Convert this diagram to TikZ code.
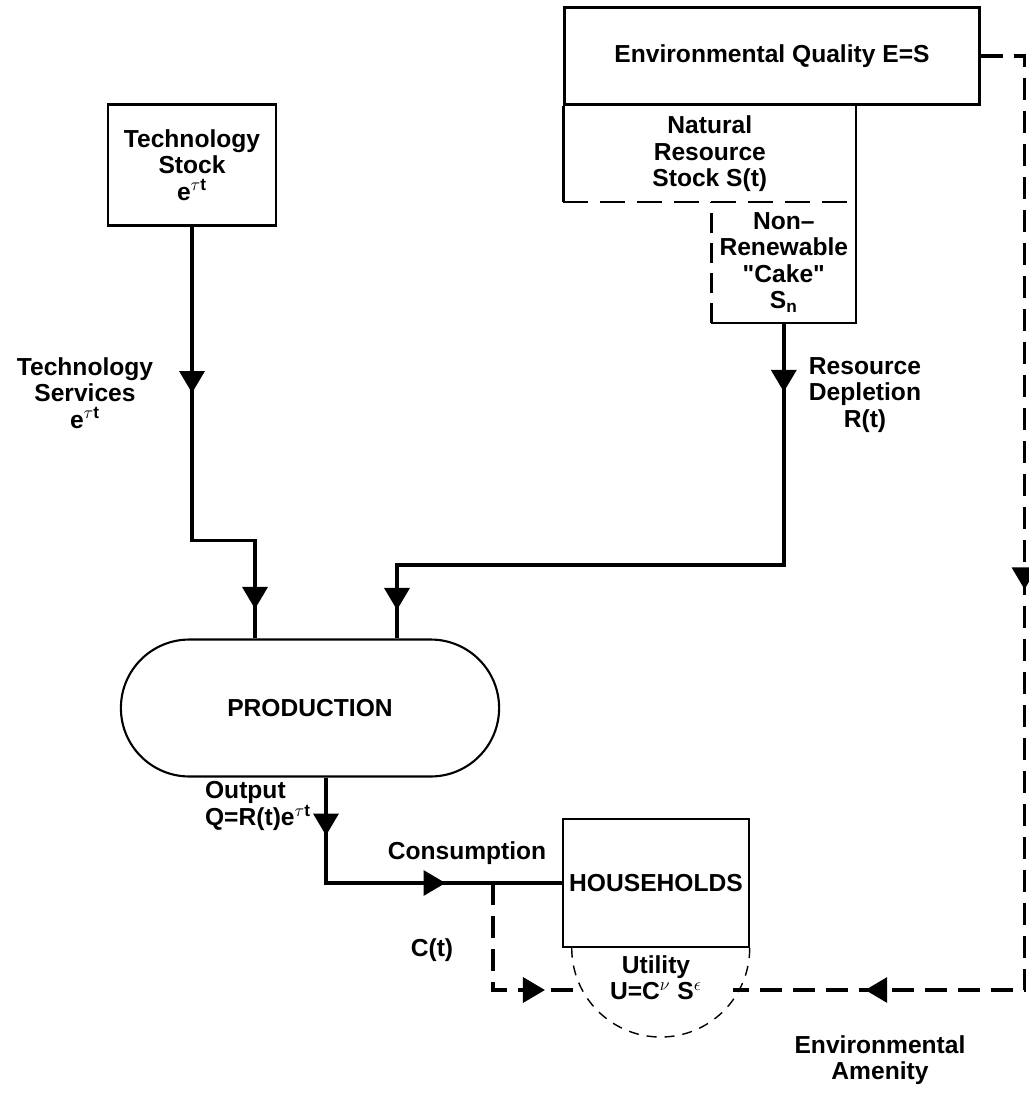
\documentclass[tikz,border=0pt]{standalone}
\usepackage{fontspec}
\setmainfont{Liberation Sans}[Ligatures=TeXOff]
\usepackage{tikz}
\usetikzlibrary{positioning,calc,arrows.meta,shapes.misc,decorations.markings}

\tikzset{
  box/.style={draw,line width=1.2pt,rectangle,align=center},
  bare/.style={align=center,inner sep=1pt},
  flow/.style={line width=2pt},
  amen/.style={line width=2pt,dash pattern=on 0.44cm off 0.22cm},
  arrowsat/.style 2 args={postaction={decorate},decoration={markings,
      mark=at position #1 with {\arrow{Triangle[width=0.5cm,length=0.44cm]}},
      mark=at position #2 with {\arrow{Triangle[width=0.5cm,length=0.44cm]}}}},
  arrowat/.style={postaction={decorate},decoration={markings,
      mark=at position #1 with {\arrow{Triangle[width=0.5cm,length=0.44cm]}}}}
}

\begin{document}
\begin{tikzpicture}[x=0.02cm,y=-0.02cm,font=\fontsize{14}{15}\selectfont\bfseries]
    \useasboundingbox (0,0) rectangle (1028,1099);

    %--------------------------------------------
    % Nodes
    \node[box,minimum width=3.36cm,minimum height=2.42cm] (techstock) at (192,165) {Technology\\Stock\\e\textsuperscript{$\tau$t}};

    \node[box,minimum width=8.3cm,minimum height=1.94cm] (envq) at (772,56) {Environmental Quality E=S};

    \node[minimum width=5.84cm,minimum height=1.92cm,align=center,anchor=north west] (natres) at (envq.south west) {Natural\\Resource\\Stock S(t)};

    \node[minimum width=2.88cm,minimum height=2.4cm,align=center,anchor=north east] (cake) at (natres.south east) {Non–\\Renewable\\"Cake"\\S\textsubscript{n}};

    \node[rounded rectangle,draw,line width=1.2pt,minimum width=7.8cm,minimum height=2.74cm] (prod) at (310,708) {PRODUCTION};

    \node[box,minimum width=3.56cm,minimum height=2.56cm] (hh) at (656,883) {HOUSEHOLDS};

    \node[bare] (util) at (656,978) {Utility\\U=C\textsuperscript{$\nu$} S\textsuperscript{$\epsilon$}};

    \coordinate (cbranch) at (493,883);
    \coordinate (uleft) at (579,990);
    \coordinate (uright) at (733,990);

    %--------------------------------------------
    % Labels
    \node[bare] (techserv) at (85,393) {Technology\\Services\\e\textsuperscript{$\tau$t}};
    \node[bare] (resdep) at (865,395) {Resource\\Depletion\\R(t)};
    \node[bare,align=left,anchor=west] (outlbl) at (203,806) {Output\\Q=R(t)e\textsuperscript{$\tau$t}};
    \node[bare] (cons) at (467,853) {Consumption};
    \node[bare] (ct) at (432,950) {C(t)};
    \node[bare] (amenlbl) at (880,1060) {Environmental\\Amenity};

    %--------------------------------------------
    % Stock outlines
    \draw[line width=1.2pt] (natres.north west) -- (natres.south west);
    \draw[line width=1.2pt,dash pattern=on 0.5cm off 0.24cm] (natres.south west) -- (natres.south east);
    \draw[line width=1.2pt] (natres.north east) -- (cake.south east) -- (cake.south west);
    \draw[line width=1.2pt,dash pattern=on 0.4cm off 0.2cm] (cake.south west) -- (cake.north west);
    \draw[line width=0.8pt,dash pattern=on 0.2cm off 0.16cm] (hh.south east) arc[start angle=0,end angle=-180,radius=1.78cm];

    %--------------------------------------------
    % Edges
    \draw[flow,arrowsat={3.33cm}{8.91cm}] (techstock.south) -- ++(0,314) -| ([xshift=-1.1cm]prod.north);
    \draw[flow,arrowsat={1.38cm}{13.48cm}] (cake.south) -- ++(0,242) -| ([xshift=1.74cm]prod.north);
    \draw[flow,arrowsat={1.16cm}{4.5cm}] ([xshift=0.32cm]prod.south) |- (hh.west);
    \draw[amen,arrowat=3.18cm] (cbranch) |- (uleft);
    \draw[amen,arrowsat={11.55cm}{22.75cm}] (envq.east) -- ++(44,0) |- (uright);
\end{tikzpicture}
\end{document}
